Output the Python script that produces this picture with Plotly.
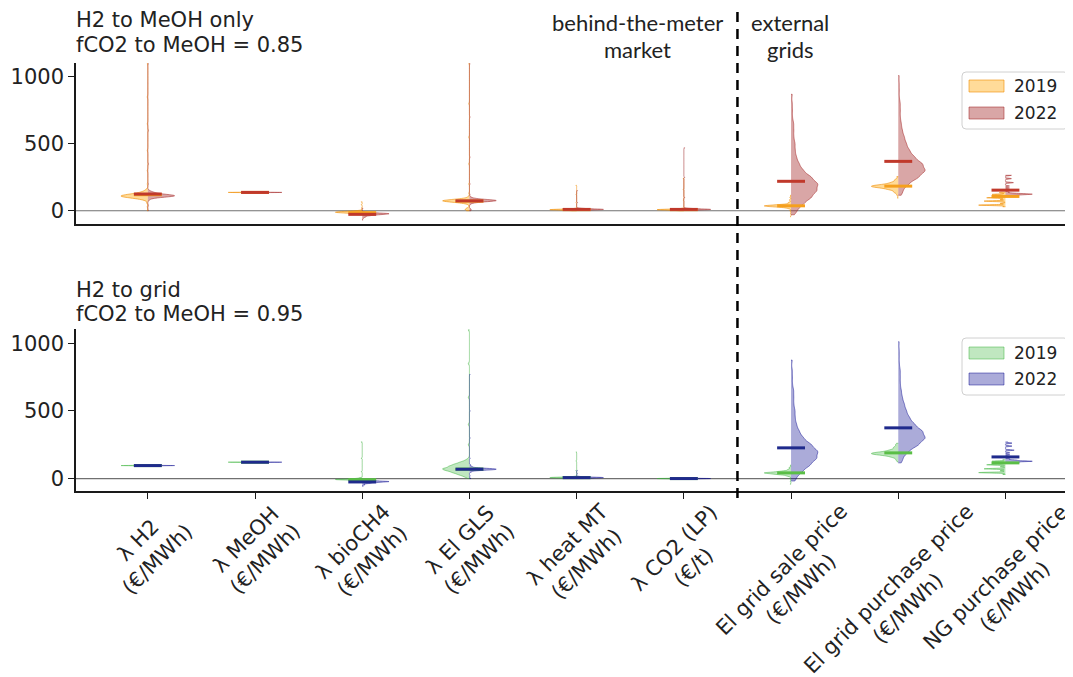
import numpy as np
import plotly.graph_objects as go

# ---------------- data ----------------
categories = [
    "λ H2<br>(€/MWh)", "λ MeOH<br>(€/MWh)", "λ bioCH4<br>(€/MWh)", "λ El GLS<br>(€/MWh)",
    "λ heat MT<br>(€/MWh)", "λ CO2 (LP)<br>(€/t)", "El grid sale price<br>(€/MWh)",
    "El grid purchase price<br>(€/MWh)", "NG purchase price<br>(€/MWh)",
]
years = ["2019", "2022"]
y_ticks = [0, 500, 1000]
top_title = ["H2 to MeOH only", "fCO2 to MeOH = 0.85"]
bottom_title = ["H2 to grid", "fCO2 to MeOH = 0.95"]
group_left = ["behind-the-meter", "market"]
group_right = ["external", "grids"]

# sample values and their frequencies, one list per category
top_2019_values = [
    [0, 30, 60, 80, 90, 100, 110, 120, 130, 140, 150, 160, 200, 300, 450, 650, 850, 1100],
    [135, 137, 139],
    [-30, -20, -15, -10, -5, 0, 20, 45, 67],
    [0, 10, 20, 40, 55, 65, 74, 83, 92, 105, 130, 200, 350, 550, 800, 1100],
    [0, 5, 8, 11, 15, 60, 120, 190],
    [0, 5, 8, 11, 16, 80, 160, 243],
    [-45, -20, 0, 20, 30, 37, 45, 60, 80, 100, 116],
    [94, 120, 140, 160, 175, 185, 195, 210, 230, 255],
    [30, 42, 55, 72, 85, 97, 110, 122, 135, 140],
]
top_2019_counts = [
    [1, 1, 2, 4, 10, 22, 30, 22, 12, 6, 3, 2, 1, 1, 1, 1, 1, 1],
    [5, 20, 5],
    [2, 6, 14, 20, 10, 3, 1, 1, 1],
    [3, 5, 3, 1, 6, 18, 30, 18, 6, 2, 1, 1, 1, 1, 1, 1],
    [3, 10, 25, 10, 3, 1, 1, 1],
    [3, 10, 25, 10, 3, 1, 1, 1],
    [1, 1, 2, 6, 20, 35, 15, 5, 3, 2, 1],
    [1, 2, 6, 12, 20, 22, 14, 9, 5, 2],
    [1, 10, 2, 8, 2, 7, 2, 5, 2, 1],
]
top_2022_values = [
    [0, 40, 80, 95, 105, 112, 120, 130, 140, 150, 200, 350, 600, 1100],
    [135, 137, 139],
    [-70, -55, -45, -35, -28, -22, -18, -10, 20],
    [0, 10, 50, 62, 70, 76, 82, 90, 100, 120, 200, 400, 700, 1100],
    [2, 6, 10, 14, 18, 60, 150],
    [2, 6, 10, 14, 18, 100, 250, 470],
    [-30, 0, 50, 100, 150, 200, 250, 300, 350, 400, 450, 500, 550, 600, 650, 700, 750, 800, 870],
    [116, 150, 200, 250, 300, 350, 400, 450, 500, 550, 600, 650, 700, 750, 800, 850, 900, 950, 1010],
    [108, 118, 124, 130, 140, 155, 170, 185, 210, 240, 265],
]
top_2022_counts = [
    [1, 1, 2, 6, 18, 30, 18, 10, 5, 2, 1, 1, 1, 1],
    [5, 20, 5],
    [1, 2, 5, 10, 18, 25, 12, 3, 1],
    [2, 3, 2, 8, 20, 30, 20, 8, 3, 1, 1, 1, 1, 1],
    [3, 10, 25, 10, 3, 1, 1],
    [3, 10, 25, 10, 3, 1, 1, 1],
    [1, 4, 9, 15, 19, 20, 15, 9, 6, 4, 3, 3, 2, 2, 2, 1, 1, 1, 1],
    [2, 4, 10, 20, 27, 24, 16, 11, 8, 6, 4, 3, 2, 2, 2, 1, 1, 1, 1],
    [2, 6, 12, 5, 2, 2, 2, 2, 4, 3, 3],
]
bottom_2019_values = [
    [94, 96, 98],
    [119, 121, 123],
    [-20, -12, -7, -2, 5, 50, 150, 271],
    [0, 15, 30, 45, 60, 74, 90, 105, 120, 135, 150, 250, 400, 600, 850, 1100],
    [0, 4, 7, 10, 14, 60, 130, 197],
    [-3, 0, 3],
    [-42, -20, 0, 20, 32, 42, 52, 65, 80, 100],
    [123, 140, 160, 175, 185, 195, 210, 230, 250, 261],
    [30, 44, 58, 72, 87, 102, 115, 128, 139],
]
bottom_2019_counts = [
    [5, 20, 5],
    [5, 20, 5],
    [3, 8, 25, 8, 3, 1, 1, 1],
    [1, 4, 8, 12, 16, 19, 15, 11, 7, 3, 1, 1, 1, 1, 1, 1],
    [3, 10, 25, 10, 3, 1, 1, 1],
    [5, 20, 5],
    [1, 1, 2, 6, 20, 35, 15, 5, 3, 1],
    [1, 3, 8, 16, 22, 16, 10, 6, 3, 1],
    [1, 10, 2, 8, 2, 7, 2, 5, 1],
]
bottom_2022_values = [
    [94, 96, 98],
    [119, 121, 123],
    [-57, -45, -35, -28, -22, -16, -10],
    [0, 20, 50, 60, 66, 72, 78, 88, 100, 150, 300, 500, 770],
    [0, 4, 7, 10, 14, 35, 60],
    [-3, 0, 3],
    [-18, 0, 50, 100, 150, 200, 250, 300, 350, 400, 450, 500, 550, 600, 650, 700, 750, 800, 876],
    [116, 150, 200, 250, 300, 350, 400, 450, 500, 550, 600, 650, 700, 750, 800, 850, 900, 950, 1012],
    [112, 120, 128, 136, 145, 160, 175, 190, 210, 240, 262, 271],
]
bottom_2022_counts = [
    [5, 20, 5],
    [5, 20, 5],
    [1, 3, 8, 15, 25, 10, 3],
    [2, 1, 3, 10, 25, 25, 10, 4, 2, 1, 1, 1, 1],
    [3, 10, 25, 10, 3, 1, 1],
    [5, 20, 5],
    [1, 3, 8, 14, 19, 20, 15, 9, 6, 4, 3, 3, 2, 2, 2, 1, 1, 1, 1],
    [2, 4, 10, 20, 27, 24, 16, 11, 8, 6, 4, 3, 2, 2, 2, 1, 1, 1, 1],
    [2, 6, 12, 5, 2, 2, 2, 2, 4, 3, 3, 1],
]
# medians
top_2019_median = [120, 137, -14, 72, 8, 8, 37, 184, 107]
top_2022_median = [125, 137, -27, 74, 10, 10, 220, 369, 154]
bottom_2019_median = [96, 121, -8, 70, 7, 0, 42, 190, 116]
bottom_2022_median = [96, 121, -25, 69, 7, 0, 227, 375, 160]

# ---------------- styles ----------------
bw_top_2019 = [8, 1, 4, 6, 3, 3, 5, 8, 3]
bw_top_2022 = [8, 1, 4, 6, 3, 3, 25, 25, 3]
bw_bottom_2019 = [1, 1, 3, 8, 3, 1.5, 5, 8, 3]
bw_bottom_2022 = [1, 1, 3, 4, 3, 1.5, 25, 25, 3]

FONT = "DejaVu Sans"
FS = 21
PAGE_OFFSET = 8                      # default body margin of the html page
W, H = 1073 - PAGE_OFFSET, 677 - PAGE_OFFSET
ML, MR, MT, MB = 76 - PAGE_OFFSET, 0, 63 - PAGE_OFFSET, 186
PW = W - ML - MR
PH = H - MT - MB


def px_x(px):       # reference-screen pixel -> paper fraction
    return (px - 76) / PW


def px_y(py):
    return (491 - py) / PH


panels = [
    dict(xa="x", ya="y", series=[
        (top_2019_values, top_2019_counts, bw_top_2019, top_2019_median, "negative",
         "rgba(255,165,0,0.4)", "rgba(240,140,0,0.6)", "#f5a01e"),
        (top_2022_values, top_2022_counts, bw_top_2022, top_2022_median, "positive",
         "rgba(165,42,42,0.42)", "rgba(165,42,42,0.55)", "#c0392b"),
    ]),
    dict(xa="x2", ya="y2", series=[
        (bottom_2019_values, bottom_2019_counts, bw_bottom_2019, bottom_2019_median, "negative",
         "rgba(60,180,60,0.32)", "rgba(60,180,60,0.5)", "#5abe46"),
        (bottom_2022_values, bottom_2022_counts, bw_bottom_2022, bottom_2022_median, "positive",
         "rgba(0,0,139,0.33)", "rgba(0,0,139,0.45)", "#1f2a8c"),
    ]),
]

fig = go.Figure()
for p in panels:
    for vals, cnts, bws, _, side, fill, line, _mc in p["series"]:
        for i in range(len(categories)):
            samples = np.repeat(np.array(vals[i], dtype=float), cnts[i])
            fig.add_trace(go.Violin(
                x0=i, y=samples, side=side, width=0.5, scalemode="width",
                spanmode="hard", bandwidth=bws[i], points=False,
                box=dict(visible=False), meanline=dict(visible=False),
                fillcolor=fill, line=dict(color=line, width=1),
                showlegend=False, hoverinfo="skip",
                xaxis=p["xa"], yaxis=p["ya"],
            ))
    for _, _, _, med, _, _, _, mc in p["series"]:
        mx, my = [], []
        for i, m in enumerate(med):
            mx += [i - 0.13, i + 0.13, None]
            my += [m, m, None]
        fig.add_trace(go.Scatter(x=mx, y=my, mode="lines", line=dict(color=mc, width=3),
                                 showlegend=False, hoverinfo="skip",
                                 xaxis=p["xa"], yaxis=p["ya"]))

xr = [-0.67, 8.63]
axis_common = dict(showgrid=False, zeroline=False, showline=True, linecolor="#1a1a1a",
                   linewidth=1.5, mirror=False)
fig.update_layout(
    width=W, height=H, margin=dict(l=ML, r=MR, t=MT, b=MB),
    paper_bgcolor="white", plot_bgcolor="white",
    violinmode="overlay", violingap=0, violingroupgap=0,
    font=dict(family=FONT, color="#222"),
    xaxis=dict(domain=[0, 1], range=xr, anchor="y", showticklabels=False, ticks="",
               type="linear", **axis_common),
    yaxis=dict(domain=[px_y(224), 1], range=[-99, 1104], anchor="x", tickvals=y_ticks,
               ticks="outside", ticklen=6, tickwidth=1.2, tickcolor="#1a1a1a",
               tickfont=dict(size=FS, family=FONT, color="#222"), **axis_common),
    xaxis2=dict(domain=[0, 1], range=xr, anchor="y2", tickvals=list(range(len(categories))),
                showticklabels=False, ticks="outside", ticklen=6, tickwidth=1.2,
                tickcolor="#1a1a1a", type="linear", **axis_common),
    yaxis2=dict(domain=[0, px_y(329)], range=[-92, 1106], anchor="x2", tickvals=y_ticks,
                ticks="outside", ticklen=6, tickwidth=1.2, tickcolor="#1a1a1a",
                tickfont=dict(size=FS, family=FONT, color="#222"), **axis_common),
)

# zero lines
for xa, ya in (("x", "y"), ("x2", "y2")):
    fig.add_shape(type="line", xref=f"{xa} domain", yref=ya, x0=0, x1=1, y0=0, y1=0,
                  line=dict(color="#707070", width=1.2), layer="below")

# dashed separator between behind-the-meter and external grids
fig.add_shape(type="line", xref="x", yref="paper", x0=5.5, x1=5.5, y0=px_y(498), y1=px_y(8),
              line=dict(color="black", width=2.5, dash="10px,7px"))

annotations = []
# category labels (rotated)
for i, lab in enumerate(categories):
    annotations.append(dict(x=i, xref="x2", y=px_y(497), yref="paper", text=lab,
                            textangle=-45, showarrow=False, xanchor="center", yanchor="top",
                            font=dict(size=FS, family=FONT, color="#222")))
# panel titles
for lines, ys in ((top_title, (20, 45)), (bottom_title, (290, 314))):
    for t, yy in zip(lines, ys):
        annotations.append(dict(x=px_x(74), xref="paper", y=px_y(yy), yref="paper", text=t,
                                showarrow=False, xanchor="left", yanchor="middle",
                                font=dict(size=FS, family=FONT, color="#222")))
# group labels
for lines, cx in ((group_left, 637), (group_right, 790)):
    for t, yy in zip(lines, (22, 50)):
        annotations.append(dict(x=px_x(cx), xref="paper", y=px_y(yy), yref="paper", text=t,
                                showarrow=False, xanchor="center", yanchor="middle",
                                font=dict(size=22, family="Lato", color="#222")))

# manual legends
legend_specs = [
    (72, 129, [(80, 92), (107, 119)], panels[0]["series"]),
    (338, 395, [(347, 359), (373, 385)], panels[1]["series"]),
]
for top, bot, patches, series in legend_specs:
    x0, x1 = 962, 1068
    r = 4
    path = (f"M {px_x(x0 + r)},{px_y(top)} L {px_x(x1 - r)},{px_y(top)} "
            f"Q {px_x(x1)},{px_y(top)} {px_x(x1)},{px_y(top + r)} "
            f"L {px_x(x1)},{px_y(bot - r)} Q {px_x(x1)},{px_y(bot)} {px_x(x1 - r)},{px_y(bot)} "
            f"L {px_x(x0 + r)},{px_y(bot)} Q {px_x(x0)},{px_y(bot)} {px_x(x0)},{px_y(bot - r)} "
            f"L {px_x(x0)},{px_y(top + r)} Q {px_x(x0)},{px_y(top)} {px_x(x0 + r)},{px_y(top)} Z")
    fig.add_shape(type="path", xref="paper", yref="paper", path=path,
                  line=dict(color="#d0d0d0", width=1), fillcolor="rgba(255,255,255,0.85)")
    for (py0, py1), s, yr in zip(patches, series, years):
        fig.add_shape(type="rect", xref="paper", yref="paper",
                      x0=px_x(969), x1=px_x(1004), y0=px_y(py1), y1=px_y(py0),
                      fillcolor=s[5], line=dict(color=s[6], width=1))
        annotations.append(dict(x=px_x(1012), xref="paper", y=px_y((py0 + py1) / 2), yref="paper",
                                text=yr, showarrow=False, xanchor="left", yanchor="middle",
                                font=dict(size=17, family=FONT, color="#222")))

fig.update_layout(annotations=annotations)
fig.write_html("out.html")
